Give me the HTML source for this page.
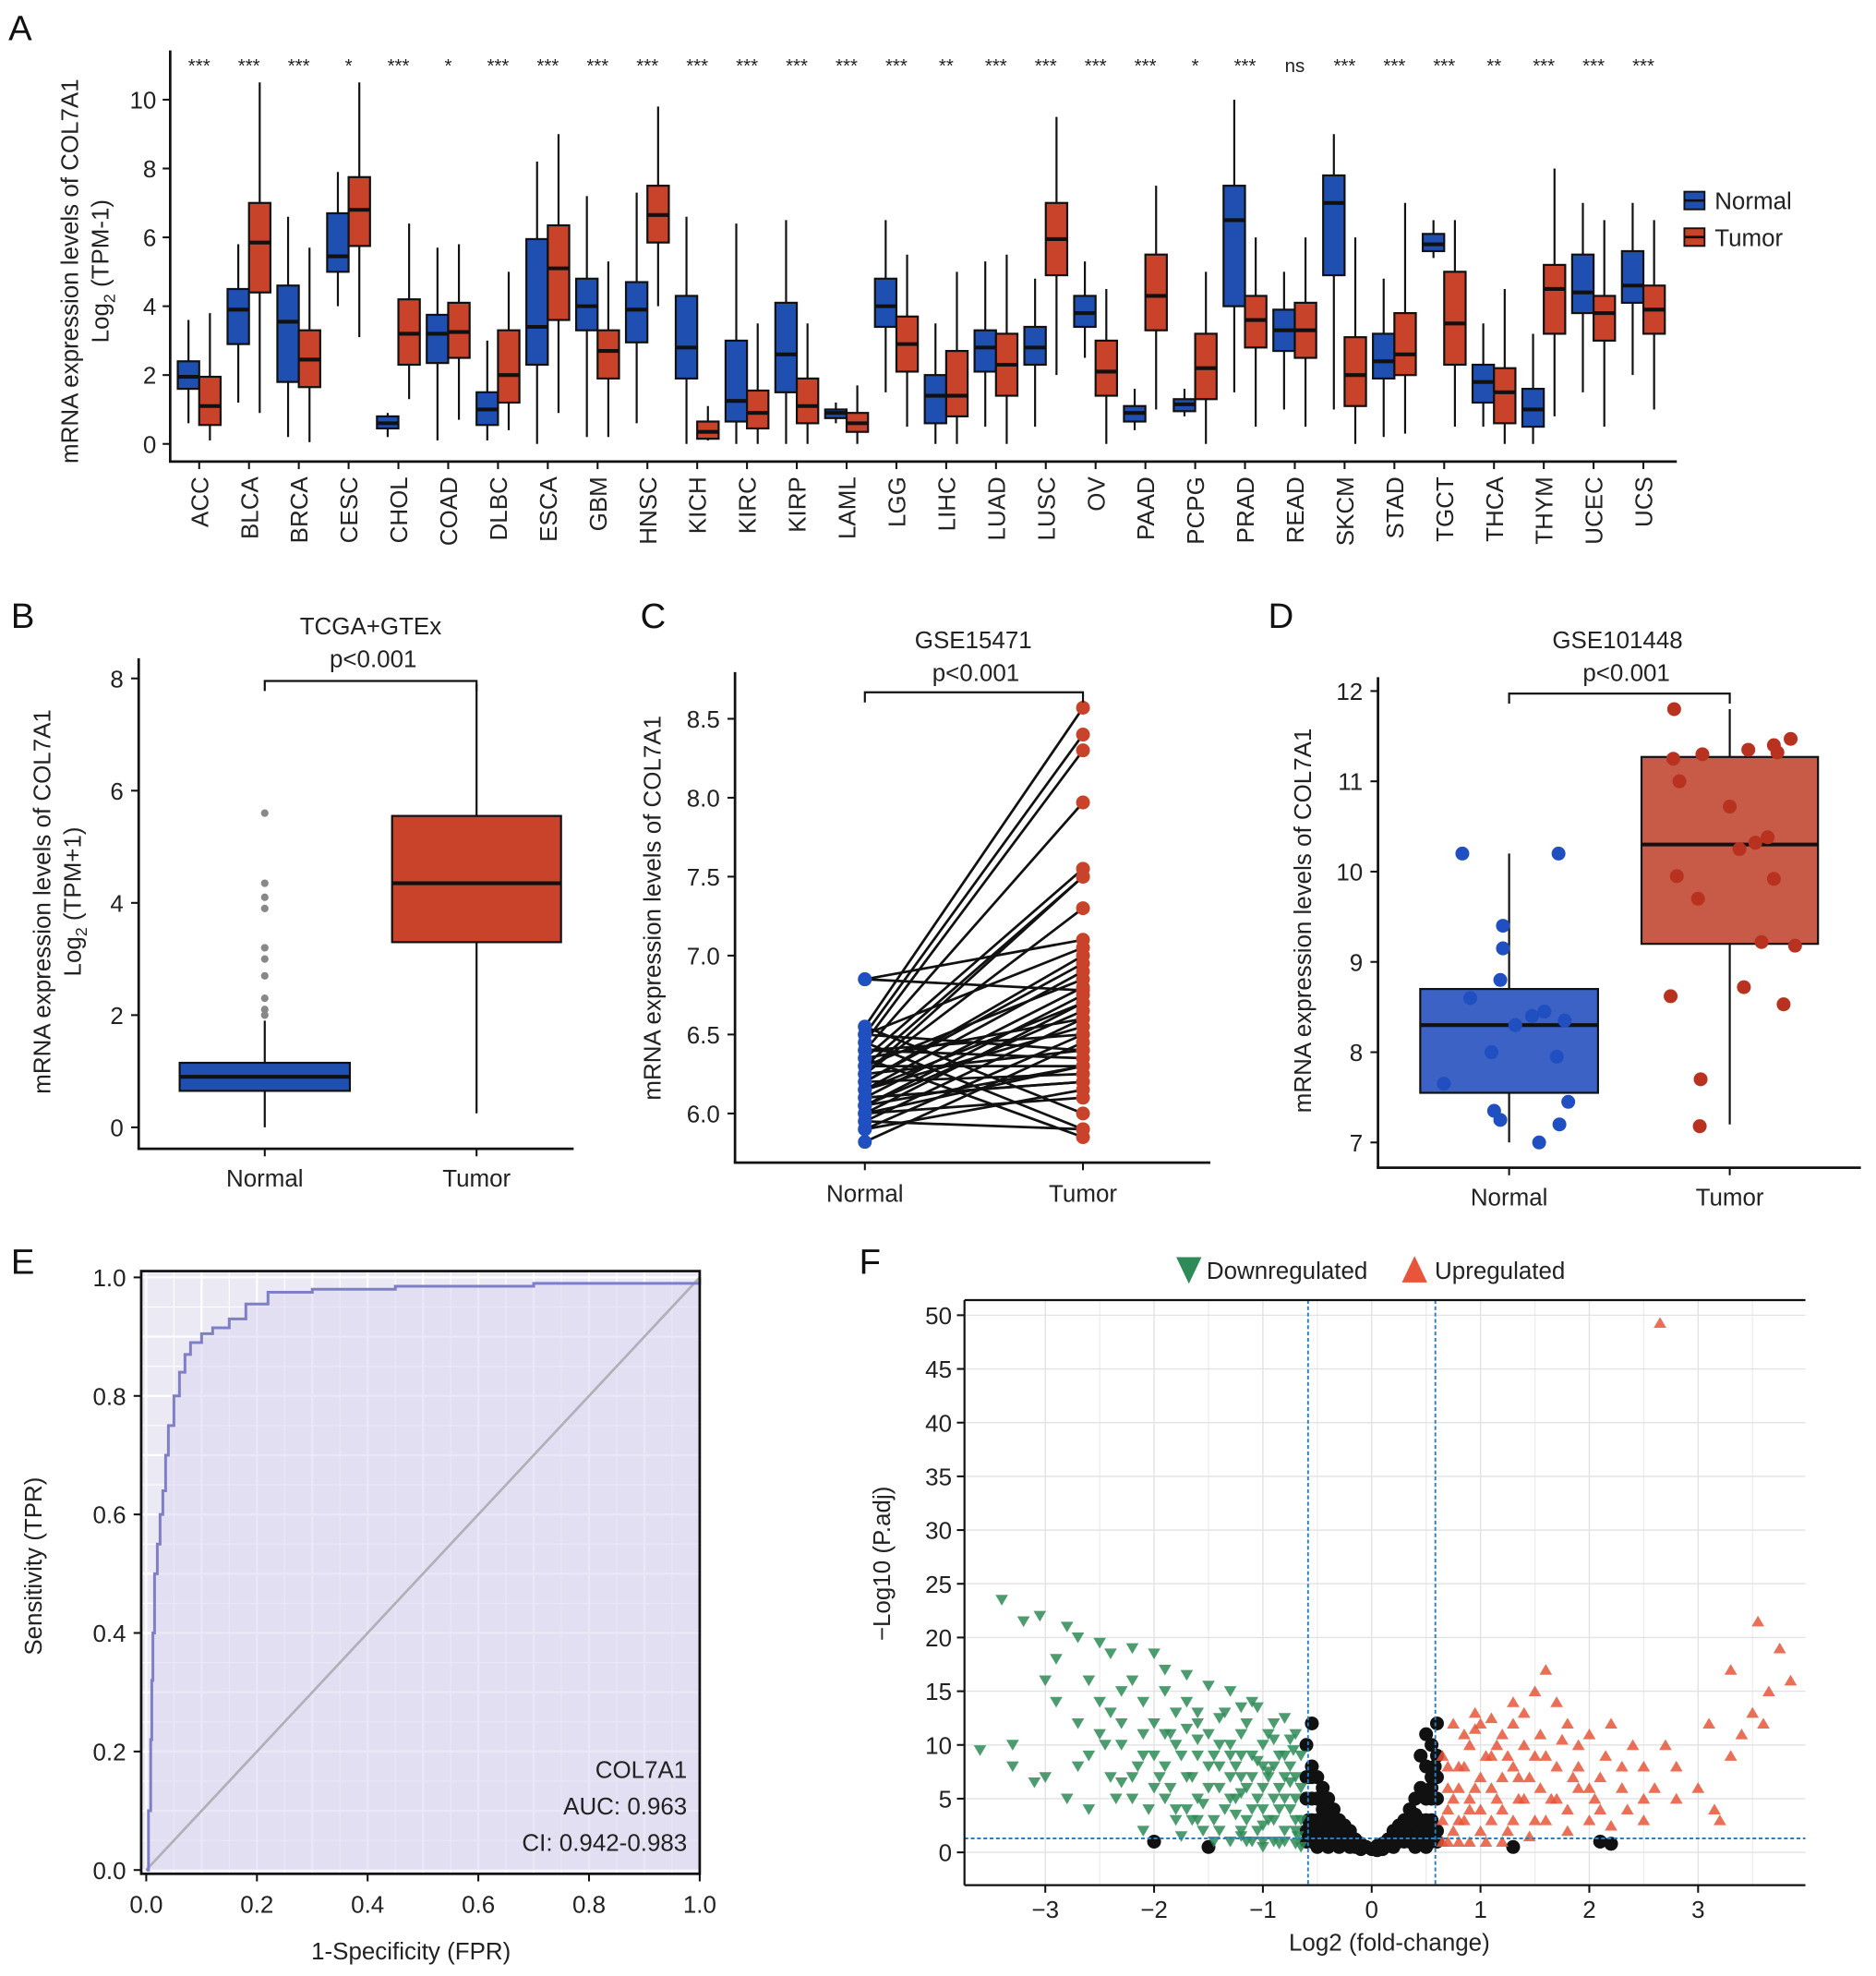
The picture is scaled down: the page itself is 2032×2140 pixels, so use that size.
<!DOCTYPE html>
<html><head><meta charset="utf-8">
<style>
html,body{margin:0;padding:0;background:#fff;}
svg{display:block;font-family:"Liberation Sans",sans-serif;}
</style></head>
<body>
<svg id="fig" width="2032" height="2140" viewBox="0 0 1488 1567" xmlns="http://www.w3.org/2000/svg"></svg>
<script>
// ---------- DATA ----------
// Panel A
const cancers=["ACC","BLCA","BRCA","CESC","CHOL","COAD","DLBC","ESCA","GBM","HNSC","KICH","KIRC","KIRP","LAML","LGG","LIHC","LUAD","LUSC","OV","PAAD","PCPG","PRAD","READ","SKCM","STAD","TGCT","THCA","THYM","UCEC","UCS"];
const sigLabels=["***","***","***","*","***","*","***","***","***","***","***","***","***","***","***","**","***","***","***","***","*","***","ns","***","***","***","**","***","***","***"];
// [min,q1,med,q3,max]
const normalStats=[[0.6,1.6,1.95,2.4,3.6],[1.2,2.9,3.9,4.5,5.8],[0.2,1.8,3.55,4.6,6.6],[4,5,5.45,6.7,7.9],[0.2,0.45,0.6,0.8,0.9],[0.1,2.35,3.2,3.75,5.7],[0.1,0.55,1.0,1.5,3],[0,2.3,3.4,5.95,8.2],[0.2,3.3,4,4.8,7.2],[0.6,2.95,3.9,4.7,7.3],[0,1.9,2.8,4.3,6.6],[0,0.65,1.25,3.0,6.4],[0,1.5,2.6,4.1,6.5],[0.6,0.75,0.9,1.0,1.2],[1.5,3.4,4,4.8,6.5],[0,0.6,1.4,2.0,3.5],[0.5,2.1,2.8,3.3,5.3],[0.5,2.3,2.8,3.4,4.8],[2.5,3.4,3.8,4.3,5.3],[0.4,0.65,0.9,1.1,1.6],[0.8,0.95,1.15,1.3,1.6],[1.5,4,6.5,7.5,10],[1,2.7,3.3,3.9,5],[1,4.9,7,7.8,9],[0.2,1.9,2.4,3.2,4.8],[5.4,5.6,5.8,6.1,6.5],[0.5,1.2,1.8,2.3,3.5],[0,0.5,1,1.6,3.2],[1.5,3.8,4.4,5.5,7],[2,4.1,4.6,5.6,7]];
const tumorStats=[[0.1,0.55,1.1,1.95,3.8],[0.9,4.4,5.85,7,10.5],[0.05,1.65,2.45,3.3,5.7],[3.1,5.75,6.8,7.75,10.5],[1.3,2.3,3.2,4.2,6.4],[0.7,2.5,3.25,4.1,5.8],[0.4,1.2,2,3.3,5],[0.9,3.6,5.1,6.35,9],[0.2,1.9,2.7,3.3,5.3],[4,5.85,6.65,7.5,9.8],[0.1,0.15,0.35,0.65,1.1],[0,0.45,0.9,1.55,3.5],[0,0.6,1.1,1.9,3.5],[0,0.35,0.6,0.9,1.7],[0.5,2.1,2.9,3.7,5.5],[0,0.8,1.4,2.7,5],[0,1.4,2.3,3.2,5.5],[2,4.9,5.95,7,9.5],[0,1.4,2.1,3,4.5],[1,3.3,4.3,5.5,7.5],[0,1.3,2.2,3.2,5],[0.5,2.8,3.6,4.3,6],[0.5,2.5,3.3,4.1,6],[0,1.1,2,3.1,6],[0.3,2,2.6,3.8,7],[0.5,2.3,3.5,5,6.5],[0,0.6,1.5,2.2,4.5],[0.8,3.2,4.5,5.2,8],[0.5,3,3.8,4.3,6.5],[1,3.2,3.9,4.6,6.5]];
const aTicks=[0,2,4,6,8,10];
// Panel B
const bNormal=[0,0.65,0.9,1.15,1.9];
const bTumor=[0.25,3.3,4.35,5.55,7.9];
const bOutliers=[5.6,4.35,4.1,3.9,3.2,3.0,2.7,2.3,2.1,2.0];
const bTicks=[0,2,4,6,8];
// Panel C
const cNormal=[6.85,6.85,6.55,6.5,6.45,6.4,6.35,6.3,6.25,6.2,6.15,6.1,6.05,6.0,5.95,5.9,5.82,6.5,6.4,6.3,6.2,6.1,6.0,6.55,6.45,6.35,6.25,6.15,6.05,6.0,5.9,6.3,6.2,6.4,6.1,6.5,6.25,6.35,6.15,6.05,5.95];
const cTumor=[6.78,7.1,8.57,8.4,8.3,7.97,7.55,7.5,7.3,7.0,6.9,6.8,6.75,6.7,6.6,6.5,6.45,6.4,6.35,6.3,6.25,6.2,6.1,6.0,5.9,5.85,7.5,6.55,6.65,6.3,6.15,6.85,6.95,6.5,6.2,7.05,6.4,6.6,6.7,6.3,5.9];
const cTicks=[6.0,6.5,7.0,7.5,8.0,8.5];
// Panel D
const dNormalBox=[7.0,7.55,8.3,8.7,10.2];
const dTumorBox=[7.2,9.2,10.3,11.27,11.8];
const dNormalVals=[10.2,10.2,9.4,9.15,8.8,8.6,8.45,8.4,8.35,8.3,8.0,7.95,7.65,7.45,7.35,7.25,7.2,7.0];
const dNormalJit=[-0.53,0.56,-0.07,-0.07,-0.1,-0.44,0.4,0.26,0.63,0.07,-0.2,0.54,-0.74,0.67,-0.17,-0.1,0.57,0.34];
const dTumorVals=[11.8,11.47,11.4,11.35,11.32,11.3,11.25,11.0,10.72,10.38,10.32,10.25,9.95,9.92,9.7,9.22,9.18,8.72,8.62,8.53,7.7,7.18];
const dTumorJit=[-0.63,0.69,0.5,0.21,0.54,-0.31,-0.64,-0.57,0,0.43,0.29,0.11,-0.6,0.5,-0.36,0.36,0.74,0.16,-0.67,0.61,-0.33,-0.34];
const dTicks=[7,8,9,10,11,12];
// Panel E
const rocFPR=[0,0.004,0.008,0.01,0.012,0.015,0.02,0.025,0.03,0.035,0.04,0.05,0.06,0.07,0.08,0.1,0.12,0.15,0.18,0.22,0.3,0.45,0.7,0.99,1];
const rocTPR=[0,0.1,0.22,0.32,0.4,0.5,0.55,0.6,0.64,0.7,0.75,0.8,0.84,0.87,0.89,0.905,0.915,0.93,0.955,0.975,0.98,0.985,0.99,0.99,1];
const eTicks=[0,0.2,0.4,0.6,0.8,1.0];
// Panel F
const downX=[-3.4,-3.6,-3.3,-3.1,-3.0,-3.2,-3.05,-2.8,-2.7,-2.5,-2.4,-2.2,-2.0,-1.9,-1.7,-1.5,-1.3,-1.1,-0.9,-0.7,-2.9,-2.6,-2.3,-2.1,-1.8,-1.6,-1.4,-1.2,-1.0,-0.8,-2.9,-2.7,-2.5,-2.3,-2.1,-1.9,-1.7,-1.5,-1.3,-1.1,-0.9,-0.7,-2.8,-2.6,-2.4,-2.2,-2.0,-1.8,-1.6,-1.4,-1.2,-1.0,-0.8,-0.65,-2.0,-1.8,-1.6,-1.4,-1.2,-1.0,-0.8,-0.7,-0.75,-0.9,-1.1,-1.3,-1.5,-1.7,-2.2,-2.4,-2.6,-3.0,-3.3,-1.0,-0.85,-0.7,-1.25,-1.55,-1.85,-2.15,-2.45,-0.95,-1.15,-1.35,-0.72,-2.1,-1.75,-1.45,-0.68,-0.8,-1.05,-1.9,-1.6,-1.3,-0.95,-0.75,-1.2,-1.65,-2.3,-1.05,
-0.65,-0.65,-0.65,-0.7,-0.75,-0.8,-0.8,-0.85,-0.85,-0.9,-0.9,-0.95,-0.95,-1.0,-1.0,-1.05,-1.05,-1.1,-1.1,-1.15,-1.15,-1.2,-1.2,-1.25,-1.25,-1.3,-1.3,-1.35,-1.4,-1.4,-1.45,-1.5,-1.55,-1.6,-1.65,-1.7,-1.75,-1.8,-1.85,-1.9,-1.95,-2.0,-2.05,-2.1,-2.2,-2.3,-2.35,-2.5,-2.7,-1.6,-1.9,-1.2,-0.7,-0.85,-1.0,-1.15,-0.75,-0.9,-1.45,-1.7];
const downY=[23.5,9.5,8,6.5,7,21.5,22,21,20,19.5,18.5,19,18.5,17,16.5,15.5,15,14,12,11,18,16,15,14,13,12,12.5,11,10,9,14,12,11,10,9,8,7,6,5,4,3,2,5,4,7,5,6,4,3,2,1.5,1,1,0.5,12,10,9,8,7,6,5,7,4,8,9,10,11,14,16,13,9,16,10,2.5,6,3,3.5,4.5,6,8,10,11,12,13,9.5,2,1.5,1,1.5,12.5,13.5,11,10.5,9,7.5,6.5,5.5,3,6.5,8.5,
3,6,9,5,8,2,7,4,9,1,5,3,7,4,8,2,5,1,7,3,6,2,9,5,8,1,7,4,6,10,3,8,2,5,7,4,9,3,11,5,7,9,4,11,7,12,5,14,8,13,15,13.5,0.8,0.8,0.5,1,10.5,10.5,9,11.5];
const upX=[0.7,0.8,0.9,1.0,1.1,1.2,1.3,1.4,1.5,1.6,1.7,1.8,1.9,2.0,2.2,2.4,2.6,2.8,2.65,3.55,3.75,3.85,3.65,3.3,3.5,3.6,3.4,3.3,3.1,2.7,2.5,2.3,2.1,1.9,1.7,1.5,1.3,1.1,0.9,0.75,0.7,0.8,0.9,1.0,1.2,1.4,1.6,1.8,2.0,2.2,2.5,3.15,3.2,1.05,1.25,1.45,1.65,1.85,2.05,2.35,0.65,0.85,0.95,1.15,1.35,1.55,0.7,0.75,1.75,2.15,
0.65,0.65,0.7,0.75,0.8,0.8,0.85,0.85,0.9,0.95,1.0,1.0,1.05,1.1,1.15,1.2,1.2,1.25,1.3,1.35,1.4,1.45,1.5,1.55,1.6,1.7,1.8,1.9,2.0,2.1,2.3,2.5,2.8,3.0,0.95,1.1,1.3];
const upY=[1,3,5,7,9,11,12,13,15,17,14,12,10,11,12,10,6,5,49.3,21.5,19,16,15,17,13,12,11,9,12,10,8,6,7,6,8,9,8,6,4,2,6,8,10,12,4,5,3,2,3,2.5,3,4,3,1,2,1.5,5,7,5,4,9,11,13,10,7,11,4,12,10.5,9,
1,3,8,5,1,6,3,8,1,6,2,4,9,3,5,1,7,9,3,5,10,7,3,6,9,5,4,8,6,4,8,5,8,6,11.5,12.5,14];
const nsX=[-0.6,-0.55,-0.5,-0.45,-0.4,-0.35,-0.3,-0.25,-0.2,-0.15,-0.1,0,0.1,0.15,0.2,0.25,0.3,0.35,0.4,0.45,0.5,0.55,0.6,-0.6,-0.5,-0.4,-0.3,-0.2,0.2,0.3,0.4,0.5,0.6,-0.6,-0.6,0.6,0.6,-0.55,0.45,0.5,-2,-1.5,1.3,2.1,-0.1,0.05,2.2,-0.5,0.55,-0.35,0.35,-0.45,0.4,-0.58,0.58,-0.25,0.25,
-0.55,-0.55,-0.55,-0.55,-0.5,-0.5,-0.5,-0.45,-0.45,-0.4,-0.4,-0.35,-0.35,-0.3,-0.3,-0.25,-0.2,-0.15,-0.05,0.05,0.1,0.15,0.2,0.25,0.3,0.35,0.35,0.4,0.4,0.45,0.45,0.5,0.5,0.5,0.55,0.55,0.55,0.55,0.6,0.6,-0.6,-0.58];
const nsY=[10,8,7,6,5,4,3,2.5,2,1.2,0.8,0.3,0.8,1.2,2,2.5,3,4,5,6,8,10,12,5,3,2,1,0.5,0.5,1,2,3,5,1,2,1,2,12,9,11,1,0.5,0.5,1,0.3,0.2,0.8,5,6,2.5,2.5,4,3.5,7,8,1.5,1.5,
1,3,5,7,0.5,2,5,1,3,0.5,3.5,1,2.5,0.5,2,1,1.2,0.5,0.5,0.6,0.3,0.6,1.2,1,2,1,3,0.5,3.5,1,3,0.5,2,5,1,3,5,7,7,9,7,3];
const fXTicks=[-3,-2,-1,0,1,2,3];
const fYTicks=[0,5,10,15,20,25,30,35,40,45,50];

// ---------- HELPERS ----------
const NS="http://www.w3.org/2000/svg";
const svg=document.getElementById('fig');
function mk(parent,tag,attrs,name,inter){
  const e=document.createElementNS(NS,tag);
  for(const k in attrs) e.setAttribute(k,attrs[k]);
  
  
  parent.appendChild(e);return e;
}
function txt(parent,x,y,s,size,name,anchor,extra){
  const a=Object.assign({x:x,y:y,'font-size':size,'text-anchor':anchor||'middle',fill:'#222'},extra||{});
  const t=mk(parent,'text',a,name);t.textContent=s;return t;
}
function grp(name){return mk(svg,'g',{},name);}
const BLUE="#1f4fb0",RED="#c8432a";

function boxplot(g,cx,w,st,sc,fill,name){
  mk(g,'line',{x1:cx,x2:cx,y1:sc(st[0]),y2:sc(st[4]),stroke:'#111','stroke-width':1.6},name+'-whisker');
  mk(g,'rect',{x:cx-w/2,y:sc(st[3]),width:w,height:sc(st[1])-sc(st[3]),fill:fill,stroke:'#111','stroke-width':1.6},name+'-box');
  mk(g,'line',{x1:cx-w/2,x2:cx+w/2,y1:sc(st[2]),y2:sc(st[2]),stroke:'#111','stroke-width':3},name+'-median');
}

// ---------- PANEL A ----------
(function(){
  const g=grp('panel-a');
  txt(g,16,32,'A',28,'panel-a-label','middle',{fill:'#111'});
  const y=v=>352-v*27.3, cx=i=>158+i*39.5;
  mk(g,'line',{x1:135,x2:135,y1:40,y2:366,stroke:'#111','stroke-width':2},'y-axis');
  mk(g,'line',{x1:134,x2:1330,y1:366,y2:366,stroke:'#111','stroke-width':2},'x-axis');
  aTicks.forEach(t=>{
    mk(g,'line',{x1:129,x2:135,y1:y(t),y2:y(t),stroke:'#111','stroke-width':1.5},'y-tick');
    txt(g,124,y(t)+7,String(t),19,'y-tick-label','end');
  });
  txt(g,0,0,'mRNA expression levels of COL7A1',19,'y-axis-title','middle',{transform:'translate(62,215) rotate(-90)'});
  const t2=mk(g,'text',{'font-size':19,'text-anchor':'middle',fill:'#222',transform:'translate(86,215) rotate(-90)'},'y-axis-subtitle');
  t2.innerHTML='Log<tspan font-size="13" dy="5">2</tspan><tspan dy="-5"> (TPM-1)</tspan>';
  cancers.forEach((c,i)=>{
    const x=cx(i);
    boxplot(g,x-8.5,17,normalStats[i],y,BLUE,'normal-box-'+c.toLowerCase());
    boxplot(g,x+8.5,17,tumorStats[i],y,RED,'tumor-box-'+c.toLowerCase());
    mk(g,'line',{x1:x,x2:x,y1:366,y2:372,stroke:'#111','stroke-width':1.5},'x-tick');
    txt(g,0,0,c,19,'x-tick-label','end',{transform:'translate('+(x+7)+',378) rotate(-90)'});
    txt(g,x,57,sigLabels[i],15,'significance-label');
  });
  const lg=mk(g,'g',{},'legend');
  mk(lg,'rect',{x:1336,y:152,width:16,height:14,fill:BLUE,stroke:'#111','stroke-width':1.4},'legend-normal-swatch');
  mk(lg,'line',{x1:1336,x2:1352,y1:159,y2:159,stroke:'#111','stroke-width':2},'legend-normal-line');
  txt(lg,1360,166,'Normal',19,'legend-normal-label','start');
  mk(lg,'rect',{x:1336,y:181,width:16,height:14,fill:RED,stroke:'#111','stroke-width':1.4},'legend-tumor-swatch');
  mk(lg,'line',{x1:1336,x2:1352,y1:188,y2:188,stroke:'#111','stroke-width':2},'legend-tumor-line');
  txt(lg,1360,195,'Tumor',19,'legend-tumor-label','start');
})();

// ---------- PANEL B ----------
(function(){
  const g=grp('panel-b');
  txt(g,18,498,'B',28,'panel-b-label','middle',{fill:'#111'});
  const y=v=>894-v*44.5;
  mk(g,'line',{x1:110,x2:110,y1:522,y2:911,stroke:'#111','stroke-width':2},'y-axis');
  mk(g,'line',{x1:109,x2:455,y1:911,y2:911,stroke:'#111','stroke-width':2},'x-axis');
  bTicks.forEach(t=>{
    mk(g,'line',{x1:104,x2:110,y1:y(t),y2:y(t),stroke:'#111','stroke-width':1.5},'y-tick');
    txt(g,98,y(t)+7,String(t),19,'y-tick-label','end');
  });
  txt(g,0,0,'mRNA expression levels of COL7A1',19,'y-axis-title','middle',{transform:'translate(40,715) rotate(-90)'});
  const t2=mk(g,'text',{'font-size':19,'text-anchor':'middle',fill:'#222',transform:'translate(64,715) rotate(-90)'},'y-axis-subtitle');
  t2.innerHTML='Log<tspan font-size="13" dy="5">2</tspan><tspan dy="-5"> (TPM+1)</tspan>';
  boxplot(g,210,135,bNormal,y,BLUE,'normal-box');
  boxplot(g,378,134,bTumor,y,RED,'tumor-box');
  bOutliers.forEach(v=>mk(g,'circle',{cx:210,cy:y(v),r:3,fill:'#888'},'normal-outlier'));
  mk(g,'path',{d:'M210,548 V540 H378 V548',fill:'none',stroke:'#111','stroke-width':1.6},'significance-bracket');
  txt(g,294,503,'TCGA+GTEx',19,'panel-b-title');
  txt(g,296,529,'p<0.001',19,'p-value-label');
  [[210,'Normal'],[378,'Tumor']].forEach(p=>{
    mk(g,'line',{x1:p[0],x2:p[0],y1:911,y2:917,stroke:'#111','stroke-width':1.5},'x-tick');
    txt(g,p[0],941,p[1],19,'x-tick-label');
  });
})();

// ---------- PANEL C ----------
(function(){
  const g=grp('panel-c');
  txt(g,518,498,'C',28,'panel-c-label','middle',{fill:'#111'});
  const y=v=>883-(v-6)*125.2;
  mk(g,'line',{x1:583,x2:583,y1:533,y2:922,stroke:'#111','stroke-width':2},'y-axis');
  mk(g,'line',{x1:582,x2:960,y1:922,y2:922,stroke:'#111','stroke-width':2},'x-axis');
  cTicks.forEach(t=>{
    mk(g,'line',{x1:577,x2:583,y1:y(t),y2:y(t),stroke:'#111','stroke-width':1.5},'y-tick');
    txt(g,571,y(t)+7,t.toFixed(1),19,'y-tick-label','end');
  });
  txt(g,0,0,'mRNA expression levels of COL7A1',19,'y-axis-title','middle',{transform:'translate(524,720) rotate(-90)'});
  cNormal.forEach((v,i)=>mk(g,'line',{x1:686,y1:y(v),x2:859,y2:y(cTumor[i]),stroke:'#111','stroke-width':2},'pair-line'));
  cNormal.forEach(v=>mk(g,'circle',{cx:686,cy:y(v),r:5.5,fill:'#1f4fc0'},'normal-point'));
  cTumor.forEach(v=>mk(g,'circle',{cx:859,cy:y(v),r:5.5,fill:'#c8432a'},'tumor-point'));
  mk(g,'path',{d:'M686,557 V549 H859 V557',fill:'none',stroke:'#111','stroke-width':1.6},'significance-bracket');
  txt(g,772,514,'GSE15471',19,'panel-c-title');
  txt(g,774,540,'p<0.001',19,'p-value-label');
  [[686,'Normal'],[859,'Tumor']].forEach(p=>{
    mk(g,'line',{x1:p[0],x2:p[0],y1:922,y2:928,stroke:'#111','stroke-width':1.5},'x-tick');
    txt(g,p[0],953,p[1],19,'x-tick-label');
  });
})();

// ---------- PANEL D ----------
(function(){
  const g=grp('panel-d');
  txt(g,1016,498,'D',28,'panel-d-label','middle',{fill:'#111'});
  const y=v=>906-(v-7)*71.6;
  mk(g,'line',{x1:1093,x2:1093,y1:537,y2:926,stroke:'#111','stroke-width':2},'y-axis');
  mk(g,'line',{x1:1092,x2:1476,y1:926,y2:926,stroke:'#111','stroke-width':2},'x-axis');
  dTicks.forEach(t=>{
    mk(g,'line',{x1:1087,x2:1093,y1:y(t),y2:y(t),stroke:'#111','stroke-width':1.5},'y-tick');
    txt(g,1081,y(t)+7,String(t),19,'y-tick-label','end');
  });
  txt(g,0,0,'mRNA expression levels of COL7A1',19,'y-axis-title','middle',{transform:'translate(1040,730) rotate(-90)'});
  boxplot(g,1197,141,dNormalBox,y,'#3b62c4','normal-box');
  boxplot(g,1372,140,dTumorBox,y,'#c85a48','tumor-box');
  dNormalVals.forEach((v,i)=>mk(g,'circle',{cx:1197+dNormalJit[i]*70,cy:y(v),r:5.5,fill:'#1f4fc0'},'normal-point'));
  dTumorVals.forEach((v,i)=>mk(g,'circle',{cx:1372+dTumorJit[i]*70,cy:y(v),r:5.5,fill:'#b8321f'},'tumor-point'));
  mk(g,'path',{d:'M1197,558 V550 H1372 V558',fill:'none',stroke:'#111','stroke-width':1.6},'significance-bracket');
  txt(g,1283,514,'GSE101448',19,'panel-d-title');
  txt(g,1290,540,'p<0.001',19,'p-value-label');
  [[1197,'Normal'],[1372,'Tumor']].forEach(p=>{
    mk(g,'line',{x1:p[0],x2:p[0],y1:926,y2:932,stroke:'#111','stroke-width':1.5},'x-tick');
    txt(g,p[0],956,p[1],19,'x-tick-label');
  });
})();

// ---------- PANEL E ----------
(function(){
  const g=grp('panel-e');
  txt(g,18,1010,'E',28,'panel-e-label','middle',{fill:'#111'});
  const x=v=>116+v*439, y=v=>1483-v*470;
  mk(g,'rect',{x:112,y:1008,width:443,height:478,fill:'#ebe9f4'},'plot-background');
  for(let k=0;k<=20;k++){
    const v=k/20;
    mk(g,'line',{x1:x(v),x2:x(v),y1:1008,y2:1486,stroke:'#fff','stroke-width':k%2?0.8:1.6},'grid-line-x');
    mk(g,'line',{x1:112,x2:555,y1:y(v),y2:y(v),stroke:'#fff','stroke-width':k%2?0.8:1.6},'grid-line-y');
  }
  let d='M'+x(rocFPR[0])+','+y(rocTPR[0]);
  rocFPR.forEach((f,i)=>{if(i)d+=' H'+x(f)+' V'+y(rocTPR[i]);});
  mk(g,'path',{d:d+' V'+y(0)+' Z',fill:'#dcd9f0',opacity:0.6},'roc-area');
  mk(g,'line',{x1:x(0),y1:y(0),x2:x(1),y2:y(1),stroke:'#b0b0b8','stroke-width':2},'diagonal-line');
  mk(g,'path',{d:d,fill:'none',stroke:'#7f7fc8','stroke-width':2.2},'roc-curve');
  mk(g,'rect',{x:112,y:1008,width:443,height:478,fill:'none',stroke:'#111','stroke-width':2},'plot-border');
  eTicks.forEach(t=>{
    mk(g,'line',{x1:x(t),x2:x(t),y1:1486,y2:1492,stroke:'#111','stroke-width':1.5},'x-tick');
    txt(g,x(t),1517,t.toFixed(1),19,'x-tick-label');
    mk(g,'line',{x1:106,x2:112,y1:y(t),y2:y(t),stroke:'#111','stroke-width':1.5},'y-tick');
    txt(g,100,y(t)+7,t.toFixed(1),19,'y-tick-label','end');
  });
  txt(g,326,1554,'1-Specificity (FPR)',19,'x-axis-title');
  txt(g,0,0,'Sensitivity (TPR)',19,'y-axis-title','middle',{transform:'translate(33,1242) rotate(-90)'});
  txt(g,545,1410,'COL7A1',19,'roc-gene-label','end');
  txt(g,545,1439,'AUC: 0.963',19,'auc-label','end');
  txt(g,545,1468,'CI: 0.942-0.983',19,'ci-label','end');
})();

// ---------- PANEL F ----------
(function(){
  const g=grp('panel-f');
  txt(g,690,1010,'F',28,'panel-f-label','middle',{fill:'#111'});
  const x=v=>1088+v*86.3, y=v=>1469-v*8.52;
  const L=765,R=1432,T=1031,B=1495;
  fXTicks.forEach(t=>{
    mk(g,'line',{x1:x(t),x2:x(t),y1:T,y2:B,stroke:'#e2e2e2','stroke-width':1},'grid-line-x');
    mk(g,'line',{x1:x(t+0.5),x2:x(t+0.5),y1:T,y2:B,stroke:'#eee','stroke-width':1},'grid-line-x-minor');
  });
  fYTicks.forEach(t=>mk(g,'line',{x1:L,x2:R,y1:y(t),y2:y(t),stroke:'#e2e2e2','stroke-width':1},'grid-line-y'));
  const tri=(cx,cy,s,down)=>down?`M${cx-s},${cy-s*0.8} L${cx+s},${cy-s*0.8} L${cx},${cy+s*0.9} Z`:`M${cx-s},${cy+s*0.8} L${cx+s},${cy+s*0.8} L${cx},${cy-s*0.9} Z`;
  nsX.forEach((v,i)=>mk(g,'circle',{cx:x(v),cy:y(nsY[i]),r:5.5,fill:'#111'},'ns-point'));
  downX.forEach((v,i)=>mk(g,'path',{d:tri(x(v),y(downY[i]),5,true),fill:'#2e8b57',opacity:0.85},'down-point'));
  upX.forEach((v,i)=>mk(g,'path',{d:tri(x(v),y(upY[i]),5,false),fill:'#e8553a',opacity:0.85},'up-point'));
  mk(g,'line',{x1:x(-0.585),x2:x(-0.585),y1:T,y2:B,stroke:'#2a7fc0','stroke-width':1.4,'stroke-dasharray':'3,2'},'fc-threshold-left');
  mk(g,'line',{x1:x(0.585),x2:x(0.585),y1:T,y2:B,stroke:'#2a7fc0','stroke-width':1.4,'stroke-dasharray':'3,2'},'fc-threshold-right');
  mk(g,'line',{x1:L,x2:R,y1:y(1.3),y2:y(1.3),stroke:'#2a7fc0','stroke-width':1.4,'stroke-dasharray':'3,2'},'p-threshold');
  mk(g,'line',{x1:L,x2:R,y1:T,y2:T,stroke:'#111','stroke-width':1.6},'plot-top-border');
  mk(g,'line',{x1:L,x2:L,y1:T,y2:B,stroke:'#111','stroke-width':1.6},'y-axis');
  mk(g,'line',{x1:L,x2:R,y1:B,y2:B,stroke:'#111','stroke-width':1.6},'x-axis');
  fXTicks.forEach(t=>{
    mk(g,'line',{x1:x(t),x2:x(t),y1:B,y2:B+6,stroke:'#111','stroke-width':1.5},'x-tick');
    txt(g,x(t),1521,t<0?'\u2212'+Math.abs(t):String(t),19,'x-tick-label');
  });
  fYTicks.forEach(t=>{
    mk(g,'line',{x1:L-6,x2:L,y1:y(t),y2:y(t),stroke:'#111','stroke-width':1.5},'y-tick');
    txt(g,L-10,y(t)+7,String(t),19,'y-tick-label','end');
  });
  txt(g,1102,1547,'Log2 (fold-change)',19,'x-axis-title');
  txt(g,0,0,'\u2212Log10 (P.adj)',19,'y-axis-title','middle',{transform:'translate(706,1240) rotate(-90)'});
  const lg=mk(g,'g',{},'legend');
  mk(lg,'path',{d:'M933,997 L953,997 L943,1018 Z',fill:'#2e8b57'},'legend-down-marker');
  txt(lg,957,1014,'Downregulated',19,'legend-down-label','start');
  mk(lg,'path',{d:'M1112,1017 L1132,1017 L1122,996 Z',fill:'#e8553a'},'legend-up-marker');
  txt(lg,1138,1014,'Upregulated',19,'legend-up-label','start');
})();
</script>
</body></html>
